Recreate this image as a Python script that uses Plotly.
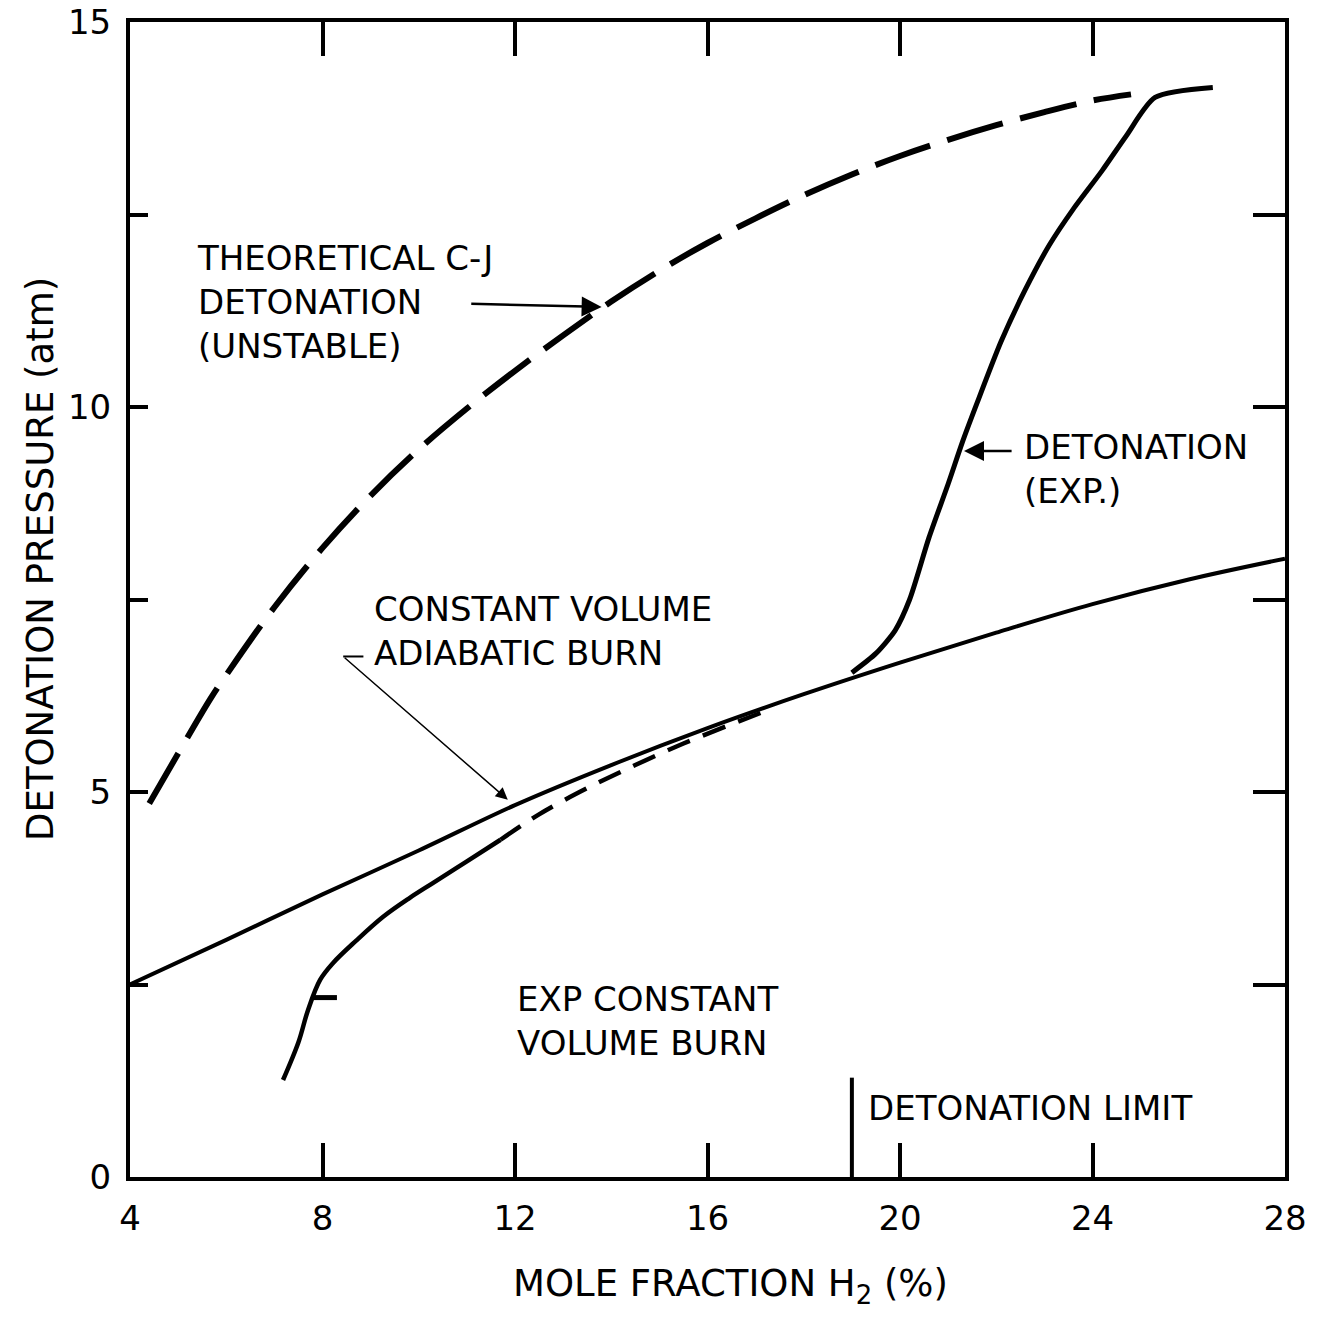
import plotly.graph_objects as go

# ---- data ----
adiabatic_x = [4.0, 6.0, 8.0, 10.0, 12.0, 14.0, 16.0, 18.0, 20.0, 22.0, 24.0, 26.0, 28.0]
adiabatic_y = [2.50, 3.08, 3.67, 4.24, 4.83, 5.35, 5.83, 6.27, 6.68, 7.07, 7.44, 7.76, 8.03]

cj_x = [4.4, 5.0, 5.66, 6.0, 7.0, 8.0, 9.0, 10.0, 11.0, 12.0, 13.0, 14.0, 15.0, 16.0,
        17.0, 18.0, 19.0, 20.0, 21.0, 22.0, 23.0, 24.0, 24.8]
cj_y = [4.85, 5.5, 6.2, 6.52, 7.4, 8.17, 8.85, 9.45, 9.98, 10.47, 10.93, 11.37, 11.77, 12.13,
        12.45, 12.75, 13.02, 13.26, 13.47, 13.66, 13.83, 13.98, 14.06]

expcv_x = [7.18, 7.5, 7.7, 7.95, 8.22, 8.7, 9.26, 9.8, 10.3, 11.0, 11.7]
expcv_y = [1.26, 1.75, 2.17, 2.56, 2.78, 3.07, 3.38, 3.62, 3.82, 4.10, 4.38]

expcv_dash_x = [11.7, 12.5, 13.5, 14.5, 15.5, 16.5, 17.2]
expcv_dash_y = [4.38, 4.71, 5.05, 5.35, 5.63, 5.88, 6.05]

det_x = [19.0, 19.5, 19.9, 20.2, 20.6, 21.0, 21.3, 21.6, 22.1, 22.6, 23.1, 23.6, 24.2,
         24.7, 25.3, 26.5]
det_y = [6.55, 6.8, 7.1, 7.5, 8.3, 9.0, 9.55, 10.05, 10.85, 11.52, 12.1, 12.57, 13.07,
         13.52, 14.02, 14.15]

x_ticks = [4, 8, 12, 16, 20, 24, 28]
y_ticks = [0, 2.5, 5, 7.5, 10, 12.5, 15]
y_tick_text = ["0", "", "5", "", "10", "", "15"]
y_right_ticks = [2.5, 5, 7.5, 10, 12.5]

det_limit_x = 19.0
det_limit_top = 1.29

FONT = "DejaVu Sans"
BLACK = "#000000"

fig = go.Figure()

fig.add_trace(go.Scatter(x=adiabatic_x, y=adiabatic_y, mode="lines",
                         line=dict(color=BLACK, width=4, shape="spline", smoothing=1.0),
                         showlegend=False, hoverinfo="skip"))
fig.add_trace(go.Scatter(x=cj_x, y=cj_y, mode="lines",
                         line=dict(color=BLACK, width=6, shape="spline", dash="58px,18px"),
                         showlegend=False, hoverinfo="skip"))
fig.add_trace(go.Scatter(x=expcv_x, y=expcv_y, mode="lines",
                         line=dict(color=BLACK, width=4.5, shape="spline"),
                         showlegend=False, hoverinfo="skip"))
fig.add_trace(go.Scatter(x=expcv_dash_x, y=expcv_dash_y, mode="lines",
                         line=dict(color=BLACK, width=4.5, shape="spline", dash="24px,14px"),
                         showlegend=False, hoverinfo="skip"))
fig.add_trace(go.Scatter(x=det_x, y=det_y, mode="lines",
                         line=dict(color=BLACK, width=5, shape="spline", smoothing=0.7),
                         showlegend=False, hoverinfo="skip"))
# empty trace so the right-hand axis is drawn
fig.add_trace(go.Scatter(x=[None], y=[None], yaxis="y2", showlegend=False, hoverinfo="skip"))

ann_font = dict(family=FONT, size=34, color=BLACK)

annotations = [
    dict(x=5.35, y=11.37, text="THEORETICAL C-J<br>DETONATION<br>(UNSTABLE)"),
    dict(x=9.03, y=7.09, text="CONSTANT VOLUME<br>ADIABATIC BURN"),
    dict(x=22.53, y=9.2, text="DETONATION<br>(EXP.)"),
    dict(x=12.0, y=2.03, text="EXP CONSTANT<br>VOLUME BURN"),
    dict(x=19.29, y=0.9, text="DETONATION LIMIT"),
]
for a in annotations:
    fig.add_annotation(x=a["x"], y=a["y"], xref="x", yref="y", text=a["text"],
                       showarrow=False, xanchor="left", yanchor="middle", align="left",
                       font=ann_font)

# arrows
arrows = [
    # (head_x, head_y, tail_x, tail_y, width)
    (13.80, 11.30, 11.06, 11.34, 2.5),
    (11.85, 4.90, 8.43, 6.76, 1.5),
    (21.33, 9.43, 22.35, 9.43, 2.5),
]
for hx, hy, tx, ty, w in arrows:
    fig.add_annotation(x=hx, y=hy, ax=tx, ay=ty, xref="x", yref="y", axref="x", ayref="y",
                       text="", showarrow=True, arrowhead=2, arrowsize=1.6,
                       arrowwidth=w, arrowcolor=BLACK)

# small leader stubs
fig.add_shape(type="line", x0=8.43, y0=6.76, x1=8.85, y1=6.76, xref="x", yref="y",
              line=dict(color=BLACK, width=2))
fig.add_shape(type="line", x0=7.8, y0=2.33, x1=8.3, y1=2.33, xref="x", yref="y",
              line=dict(color=BLACK, width=5))
# detonation limit marker
fig.add_shape(type="line", x0=det_limit_x, y0=0, x1=det_limit_x, y1=det_limit_top,
              xref="x", yref="y", line=dict(color=BLACK, width=4))

# axis titles
fig.add_annotation(x=0.52, y=-0.094, xref="paper", yref="paper",
                   text="MOLE FRACTION H<sub>2</sub> (%)", showarrow=False,
                   xanchor="center", yanchor="middle",
                   font=dict(family=FONT, size=37, color=BLACK))
fig.add_annotation(x=-0.078, y=0.535, xref="paper", yref="paper",
                   text="DETONATION PRESSURE (atm)", showarrow=False, textangle=-90,
                   xanchor="center", yanchor="middle",
                   font=dict(family=FONT, size=37, color=BLACK))

fig.update_layout(
    width=1317, height=1318,
    margin=dict(l=130, r=32, t=22, b=141, autoexpand=False),
    paper_bgcolor="white", plot_bgcolor="white",
    font=dict(family=FONT, color=BLACK),
    xaxis=dict(range=[4, 28], tickvals=x_ticks, ticks="inside", ticklen=34, tickwidth=4,
               tickcolor=BLACK, showline=True, linewidth=4, linecolor=BLACK, mirror="ticks",
               showgrid=False, zeroline=False, ticklabelstandoff=8, automargin=False,
               ticklabeloverflow="allow",
               tickfont=dict(family=FONT, size=34, color=BLACK)),
    yaxis=dict(range=[0, 15], tickvals=y_ticks, ticktext=y_tick_text, ticks="inside",
               ticklen=18, tickwidth=4, tickcolor=BLACK, showline=True, linewidth=4,
               linecolor=BLACK, showgrid=False, zeroline=False, ticklabelstandoff=8,
               ticklabeloverflow="allow", automargin=False,
               tickfont=dict(family=FONT, size=34, color=BLACK)),
    yaxis2=dict(range=[0, 15], overlaying="y", side="right", tickvals=y_right_ticks,
                ticks="inside", ticklen=32, tickwidth=4, tickcolor=BLACK, showline=True,
                linewidth=4, linecolor=BLACK, showgrid=False, zeroline=False,
                showticklabels=False, automargin=False),
)

fig.write_html("out.html")
